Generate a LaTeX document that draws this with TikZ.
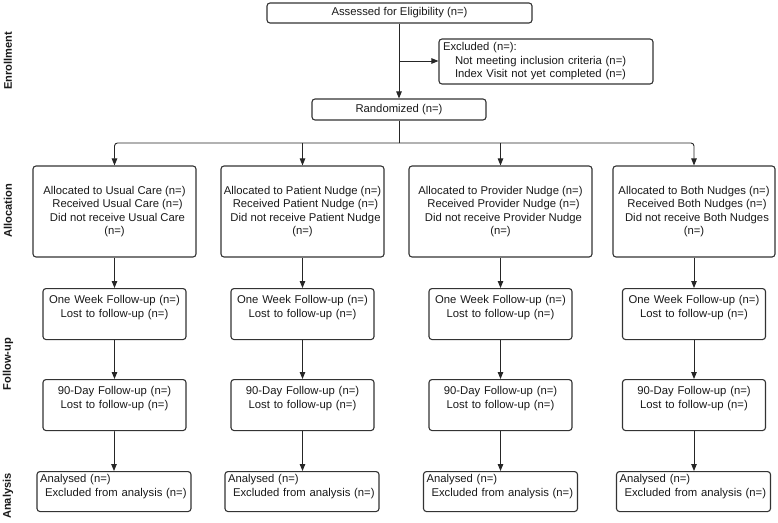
\documentclass[tikz,border=0pt]{standalone}
\usepackage{fontspec}
\setmainfont{Liberation Sans}
\usepackage{tikz}
\usetikzlibrary{arrows.meta}
\usetikzlibrary{shapes}
\tikzstyle{box}=[rectangle,rounded corners=3pt,draw=black!80,line width=1.1pt,text=black!90,font=\fontsize{11.3}{13.5}\selectfont]
\tikzstyle{single}=[box,align=center,inner sep=1pt]
\tikzstyle{alloc}=[box,align=center,inner sep=2pt,minimum width=163pt,minimum height=91pt]
\tikzstyle{follow}=[box,anchor=north,text width=135pt,align=center,inner xsep=4pt,inner ysep=3pt,text height=12pt,text depth=33pt]
\tikzstyle{result}=[box,anchor=north,text width=148pt,align=left,inner xsep=3pt,inner ysep=2pt,text height=9pt,text depth=27pt]
\tikzstyle{phase}=[rotate=90,font=\fontsize{11.1}{13}\selectfont\bfseries,text=black!90]
\tikzstyle{flow}=[line width=0.9pt,draw=black!85,-{Triangle[length=7pt,width=5.5pt]}]

\begin{document}
\begin{tikzpicture}[x=1pt,y=-1pt]
    \useasboundingbox (0,0) rectangle (778,522);
    % phases
    \node[phase] at (8,61) (enroll) {Enrollment};
    \node[phase] at (8,211) (allocate) {Allocation};
    \node[phase] at (8,364) (followup) {Follow-up};
    \node[phase] at (8,496) (analysis) {Analysis};
    % enrollment
    \node[single,minimum width=265pt,minimum height=20pt] at (399.5,13) (assess) {Assessed for Eligibility (n=)};
    \node[box,text width=206pt,align=left,inner xsep=4pt,minimum height=45pt] at (546,61.5) (excl) {Excluded (n=):\\ \hspace*{12pt}Not meeting inclusion criteria (n=)\\ \hspace*{12pt}Index Visit not yet completed (n=)};
    \node[single,minimum width=174pt,minimum height=21pt] at (399,109.5) (rand) {Randomized (n=)};
    \coordinate (split) at (399,61);
    \coordinate (bus) at (399,143);
    % allocation
    \node[alloc] at (114.5,211.5) (a1) {Allocated to Usual Care (n=)\\ \hspace*{6pt}Received Usual Care (n=)\\ \hspace*{6pt}Did not receive Usual Care\\ (n=)};
    \node[alloc] at (302.5,211.5) (a2) {Allocated to Patient Nudge (n=)\\ \hspace*{6pt}Received Patient Nudge (n=)\\ \hspace*{6pt}Did not receive Patient Nudge\\ (n=)};
    \node[alloc,minimum width=183pt] at (500.5,211.5) (a3) {Allocated to Provider Nudge (n=)\\ \hspace*{6pt}Received Provider Nudge (n=)\\ \hspace*{6pt}Did not receive Provider Nudge\\ (n=)};
    \node[alloc,minimum width=162pt] at (694,211.5) (a4) {Allocated to Both Nudges (n=)\\ \hspace*{6pt}Received Both Nudges (n=)\\ \hspace*{6pt}Did not receive Both Nudges\\ (n=)};
    % follow-up
    \node[follow] at (114.5,288) (w1) {One Week Follow-up (n=)\\ Lost to follow-up (n=)};
    \node[follow] at (302.5,288) (w2) {One Week Follow-up (n=)\\ Lost to follow-up (n=)};
    \node[follow] at (500.5,288) (w3) {One Week Follow-up (n=)\\ Lost to follow-up (n=)};
    \node[follow] at (694,288) (w4) {One Week Follow-up (n=)\\ Lost to follow-up (n=)};
    \node[follow] at (114.5,379) (d1) {90-Day Follow-up (n=)\\ Lost to follow-up (n=)};
    \node[follow] at (302.5,379) (d2) {90-Day Follow-up (n=)\\ Lost to follow-up (n=)};
    \node[follow] at (500.5,379) (d3) {90-Day Follow-up (n=)\\ Lost to follow-up (n=)};
    \node[follow] at (694,379) (d4) {90-Day Follow-up (n=)\\ Lost to follow-up (n=)};
    % analysis
    \node[result] at (114,471) (n1) {Analysed (n=)\\ \hspace*{5pt}Excluded from analysis (n=)};
    \node[result] at (302,471) (n2) {Analysed (n=)\\ \hspace*{5pt}Excluded from analysis (n=)};
    \node[result] at (500.5,471) (n3) {Analysed (n=)\\ \hspace*{5pt}Excluded from analysis (n=)};
    \node[result] at (693.5,471) (n4) {Analysed (n=)\\ \hspace*{5pt}Excluded from analysis (n=)};
    % connectors
    \draw[flow] (assess.south -| rand) -- (rand);
    \draw[flow] (split) -- (split -| excl.west);
    \draw[line width=0.9pt,draw=black!85] (rand) -- (bus);
    \draw[flow,rounded corners=3pt] (bus) -| (a1);
    \draw[flow,rounded corners=3pt] (bus) -| (a4);
    \draw[flow] (a2 |- bus) -- (a2);
    \draw[flow] (a3 |- bus) -- (a3);
    \draw[flow] (a1) -- (w1);
    \draw[flow] (a2) -- (w2);
    \draw[flow] (a3) -- (w3);
    \draw[flow] (a4) -- (w4);
    \draw[flow] (w1) -- (d1);
    \draw[flow] (w2) -- (d2);
    \draw[flow] (w3) -- (d3);
    \draw[flow] (w4) -- (d4);
    \draw[flow] (d1) -- (n1 |- d1.south) -- (n1);
    \draw[flow] (d2) -- (d2 |- n2.north);
    \draw[flow] (d3) -- (n3);
    \draw[flow] (d4) -- (d4 |- n4.north);
  \end{tikzpicture}
\end{document}
